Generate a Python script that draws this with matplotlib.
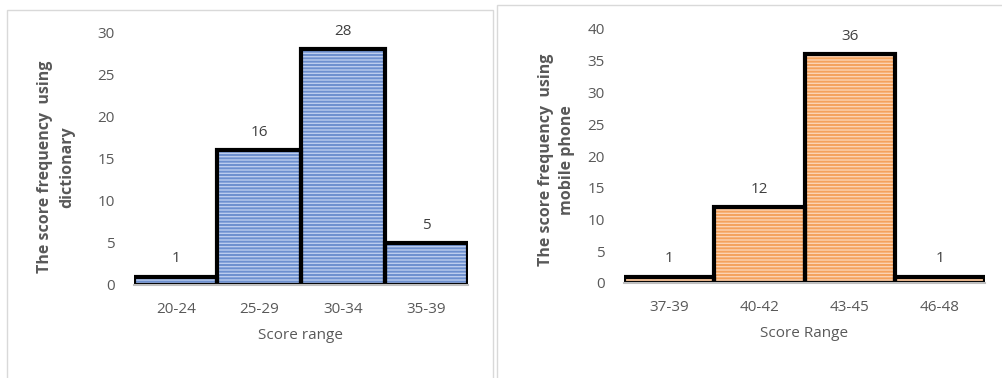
import matplotlib
matplotlib.use('Agg')
from matplotlib import pyplot as plt
from matplotlib.patches import Rectangle

# data
dict_ranges = ['20-24', '25-29', '30-34', '35-39']
dict_freq = [1, 16, 28, 5]
phone_ranges = ['37-39', '40-42', '43-45', '46-48']
phone_freq = [1, 12, 36, 1]

plt.rcParams['font.family'] = ['Open Sans', 'DejaVu Sans']
plt.rcParams['hatch.linewidth'] = 1.4
grey = '#595959'

fig = plt.figure(figsize=(10.03, 3.78), dpi=100)

# panel borders
fig.patches.append(Rectangle((7 / 1003, -0.01), 486 / 1003, 1 - 10 / 378 + 0.01,
                             transform=fig.transFigure, fill=False,
                             edgecolor='#d9d9d9', lw=1))
fig.patches.append(Rectangle((497 / 1003, -0.01), 0.6, 1 - 5 / 378 + 0.01,
                             transform=fig.transFigure, fill=False,
                             edgecolor='#d9d9d9', lw=1))


def draw(ax, cats, vals, ymax, fill, hcol, xlabel, ylabel, lab_xy):
    x = range(len(cats))
    plt.rcParams['hatch.color'] = hcol
    ax.bar(x, vals, width=1.0, color=fill, hatch='-----', edgecolor=hcol, lw=0)
    ax.bar(x, vals, width=1.0, fill=False, edgecolor='black', lw=3, joinstyle='miter')
    for xi, v in zip(x, vals):
        ax.text(xi, v + ymax * 0.04, str(v), ha='center', va='bottom',
                fontsize=11, color='#404040')
    ax.set_xlim(-0.5, len(cats) - 0.5)
    ax.set_ylim(0, ymax)
    ax.set_yticks(range(0, ymax + 1, 5))
    ax.set_xticks(list(x))
    ax.set_xticklabels(cats)
    for s in ['top', 'right', 'left']:
        ax.spines[s].set_visible(False)
    ax.spines['bottom'].set_color('#bfbfbf')
    ax.spines['bottom'].set_linewidth(1.5)
    ax.tick_params(length=0, labelsize=11, labelcolor=grey, pad=12)
    ax.tick_params(axis='y', pad=14)
    ax.set_xlabel(xlabel, fontsize=11, color=grey, labelpad=8)
    ax.set_ylabel(ylabel, fontsize=11.5, color=grey, fontweight='bold',
                  linespacing=1.45)
    ax.yaxis.set_label_coords(*lab_xy)


ax1 = fig.add_axes([134 / 1003, 1 - 285 / 378, 334 / 1003, 253 / 378])
draw(ax1, dict_ranges, dict_freq, 30, '#bccdee', '#6d90cf', 'Score range',
     'The score frequency  using\ndictionary', (-0.177, 0.466))

ax2 = fig.add_axes([624 / 1003, 1 - 283 / 378, 361 / 1003, 254 / 378])
draw(ax2, phone_ranges, phone_freq, 40, '#fcd3b3', '#f4a25c', 'Score Range',
     'The score frequency  using\nmobile phone', (-0.136, 0.484))

fig.savefig('out.png', dpi=100)
